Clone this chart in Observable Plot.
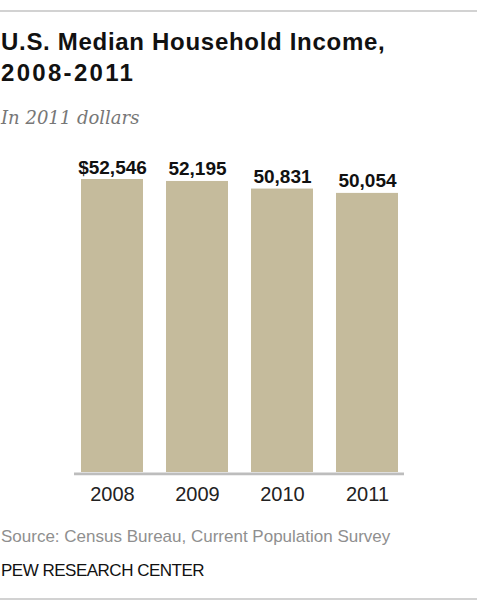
<!DOCTYPE html>
<html>
<head>
<meta charset="utf-8">
<script src="https://cdn.jsdelivr.net/npm/d3@7"></script>
<script src="https://cdn.jsdelivr.net/npm/@observablehq/plot@0.6"></script>
<style>
  html, body { margin: 0; padding: 0; background: #fff; }
  body { width: 479px; height: 612px; position: relative; overflow: hidden; font-family: "Liberation Sans", Arial, sans-serif; }
  .rule { position: absolute; left: 0; width: 477px; height: 2px; background: #d2d2d2; }
  #title { position: absolute; left: 1px; top: 26px; margin: 0; font-size: 24px; font-weight: bold; line-height: 31px; color: #111; white-space: nowrap; }
  #title .l1 { letter-spacing: 0.7px; }
  #title .l2 { letter-spacing: 2.3px; }
  #subtitle { position: absolute; left: 1px; top: 109px; margin: 0; font-family: "DejaVu Serif", serif; font-style: italic; font-size: 18px; line-height: 18px; color: #777; white-space: nowrap; }
  #chart { position: absolute; left: 0; top: 130px; }
  #source { position: absolute; left: 1px; top: 527px; font-size: 17px; line-height: 20px; color: #8f8f8f; white-space: nowrap; }
  #credit { position: absolute; left: 1px; top: 561px; font-size: 17px; line-height: 20px; letter-spacing: -0.5px; color: #111; white-space: nowrap; }
</style>
</head>
<body>
<div class="rule" style="top:10px"></div>
<h1 id="title"><span class="l1">U.S. Median Household Income,</span><br><span class="l2">2008-2011</span></h1>
<p id="subtitle">In 2011 dollars</p>
<div id="chart"></div>
<div id="source">Source: Census Bureau, Current Population Survey</div>
<div id="credit">PEW RESEARCH CENTER</div>
<div class="rule" style="top:598px"></div>
<script>
const years = ["2008", "2009", "2010", "2011"];
const incomes = [52546, 52195, 50831, 50054];
const labels = incomes.map((v, i) => (i === 0 ? "$" : "") + d3.format(",")(v));
const data = years.map((year, i) => ({year, income: incomes[i], label: labels[i]}));

const chart = Plot.plot({
  width: 479,
  height: 384,
  marginLeft: 74,
  marginRight: 75,
  marginTop: 49,
  marginBottom: 42,
  style: {fontFamily: "'Liberation Sans', Arial, sans-serif", color: "#222", background: "transparent", overflow: "visible"},
  x: {domain: years, paddingInner: 0.276, paddingOuter: 0.064, label: null},
  y: {domain: [0, d3.max(incomes)], axis: null},
  marks: [
    Plot.barY(data, {x: "year", y: "income", fill: "#c5bb9c"}),
    Plot.ruleY([0], {stroke: "#bdbdbd", strokeWidth: 2.6, dy: 1.4}),
    Plot.text(data, {x: "year", y: "income", text: "label", dy: -6, lineAnchor: "bottom", fontSize: 19, fontWeight: "bold", fill: "#111"}),
    Plot.axisX({tickSize: 0, tickPadding: 14, fontSize: 20, label: null})
  ]
});
document.getElementById("chart").appendChild(chart);
</script>
</body>
</html>
